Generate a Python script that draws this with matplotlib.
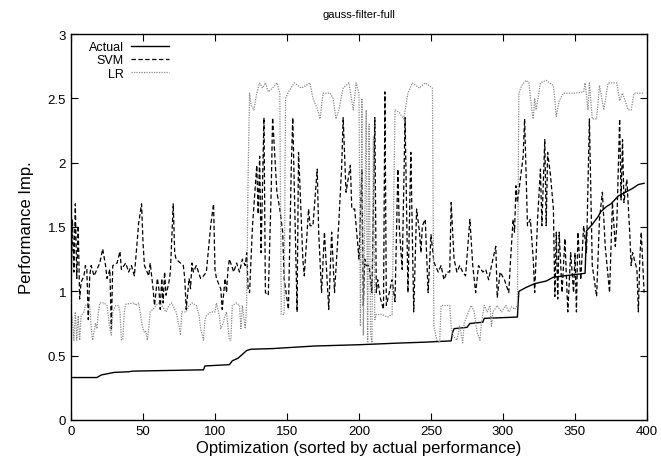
import matplotlib
matplotlib.use("Agg")
import matplotlib.pyplot as plt

plt.rcParams['font.family'] = ['Liberation Sans', 'DejaVu Sans']

# Actual performance (sorted)
actual_x = [0, 18, 21, 30, 40, 43, 92, 93, 110, 112, 116, 118, 120, 122, 125, 140, 169, 200,
            228, 246, 264, 265, 266, 275, 277, 286, 287, 310, 311, 316, 322, 330, 335, 357,
            358, 362, 366, 368, 372, 375, 380, 385, 390, 394, 398]
actual_y = [0.33, 0.33, 0.35, 0.37, 0.375, 0.38, 0.39, 0.42, 0.43, 0.46, 0.48, 0.50, 0.52, 0.54,
            0.55, 0.555, 0.575, 0.585, 0.598, 0.605, 0.615, 0.68, 0.71, 0.72, 0.75, 0.76, 0.79,
            0.80, 1.0, 1.03, 1.06, 1.08, 1.11, 1.14, 1.47, 1.52, 1.58, 1.62, 1.66, 1.68, 1.74,
            1.77, 1.80, 1.83, 1.84]

# SVM prediction
svm_x = [0, 1, 2, 3, 4, 5, 6, 7, 9, 10, 11, 12, 13, 14, 16, 18, 20, 22, 24, 25, 27, 28, 29, 32,
         34, 35, 38, 40, 42, 44, 47, 49, 50, 51, 54, 55, 57, 58, 60, 61, 62, 63, 64, 65, 66, 68,
         69, 71, 72, 73, 76, 78, 79, 80, 82, 83, 84, 85, 87, 90, 92, 94, 97, 99, 100, 101, 104,
         105, 107, 108, 109, 110, 113, 115, 117, 119, 121, 122, 123, 124,
         126, 129, 130, 131, 132, 134, 135, 137, 139, 140, 143, 145, 147, 148, 151, 153, 154,
         157, 158, 159, 161, 162, 165, 166, 168, 171, 172, 174, 176, 179, 181, 183, 186, 188,
         189, 191, 194, 195, 197, 200, 202, 203, 204, 205, 207, 209, 211, 212, 213, 215, 217,
         218, 219, 221, 223, 225, 227, 228, 230, 232, 234, 236, 238, 240, 242, 243, 244, 246,
         248, 250, 252, 253, 255, 257, 259, 261, 263, 264, 266, 268, 270, 272, 274, 277, 279,
         281, 283, 286, 288, 290, 292, 295, 296, 298, 301, 304, 305, 307, 308, 309, 310, 312,
         314, 315, 317, 319, 321, 322, 324, 326, 327, 329, 330, 331, 333, 335, 336, 337, 338,
         339, 341, 343, 345, 347, 349, 350, 351, 352, 354, 356, 358, 360, 362, 365, 367, 369,
         371, 374, 376, 378, 379, 381, 382, 383, 384, 386, 388, 389, 390, 393, 394, 395, 396, 398]
svm_y = [0.99, 1.56, 1.15, 1.68, 1.10, 1.51, 0.94, 1.07, 1.12, 1.20, 1.17, 0.78, 1.12, 1.20,
         1.12, 1.17, 1.22, 1.33, 1.20, 1.10, 1.17, 0.71, 1.20, 1.22, 1.31, 1.17, 1.22, 1.15,
         1.20, 1.12, 1.53, 1.68, 1.38, 1.20, 1.12, 1.22, 1.02, 0.89, 1.10, 1.02, 0.86, 1.10,
         0.91, 1.15, 0.97, 1.07, 1.15, 1.68, 1.30, 1.25, 1.22, 1.20, 1.10, 0.86, 1.10, 1.02,
         1.22, 1.15, 1.20, 1.10, 1.12, 1.15, 1.51, 1.68, 1.17, 1.10, 1.02, 0.86, 1.10, 0.99,
         1.17, 1.25, 1.15, 1.22, 1.15, 1.25, 1.20, 1.30, 1.02, 0.99,
         1.50, 1.98, 1.60, 2.05, 1.30, 2.35, 0.99, 0.97, 1.77, 2.35, 1.77, 1.64, 1.46, 1.10,
         0.86, 1.98, 2.35, 0.84, 2.08, 1.82, 1.25, 1.12, 1.64, 1.51, 1.51, 1.95, 1.46, 0.99,
         1.46, 0.86, 1.46, 0.99, 1.54, 1.98, 2.35, 1.77, 1.98, 1.64, 1.64, 1.25, 1.95, 0.89,
         1.25, 1.20, 1.20, 0.99, 2.35, 0.99, 1.09, 0.94, 0.86, 2.55, 0.89, 0.99, 1.09, 0.92,
         1.95, 1.49, 1.17, 2.35, 0.99, 2.08, 0.84, 1.64, 1.46, 1.30, 1.51, 1.56, 0.99, 1.44,
         1.23, 1.20, 1.15, 1.20, 1.09, 1.15, 1.15, 1.69, 1.25, 1.15, 1.20, 1.15, 1.12, 1.56,
         1.20, 0.99, 1.20, 1.15, 1.17, 1.09, 1.20, 1.35, 0.95, 1.15, 1.09, 0.99, 1.20, 1.56,
         1.46, 1.82, 1.69, 1.87, 2.05, 2.34, 1.51, 1.56, 1.25, 0.99, 1.56, 1.95, 1.51, 2.18,
         1.51, 2.08, 1.90, 1.64, 0.96, 1.46, 0.94, 1.46, 0.99, 1.41, 0.84, 1.30, 0.99, 1.30,
         0.84, 1.46, 1.09, 1.51, 1.30, 2.34, 1.20, 0.96, 1.56, 1.77, 1.35, 0.99, 1.69, 1.35,
         1.51, 2.34, 1.71, 2.18, 1.69, 1.87, 1.46, 1.20, 1.30, 1.17, 0.84, 1.25, 1.46, 0.99]

# LR prediction
lr_x = [0, 1, 2, 3, 4, 5, 6, 7, 9, 10, 12, 13, 14, 15, 17, 18, 19, 20, 23, 25, 27, 28, 29, 31,
        33, 34, 35, 36, 37, 38, 44, 45, 47, 48, 49, 50, 51, 52, 53, 54, 55, 57, 59, 61, 63, 66,
        68, 70, 72, 73, 75, 76, 77, 80, 82, 84, 87, 89, 90, 92, 93, 94, 97, 100, 101, 103, 104,
        105, 107, 108, 109, 110, 111, 112, 115, 117, 118, 119, 121, 122, 123, 124,
        125, 127, 129, 131, 133, 135, 137, 140, 143, 145, 146, 148, 149, 151, 155, 160, 166,
        168, 171, 173, 175, 180, 182, 184, 186, 189, 193, 196, 198, 200, 201, 202, 203, 205,
        206, 207, 208, 209, 210, 211, 212, 216, 220, 223, 225, 228, 231, 234, 237, 242, 246,
        251, 252, 254, 256, 257, 263, 264, 265, 268, 270, 272, 273, 276, 278, 280, 282, 284,
        285, 287, 289, 291, 292, 293, 296, 299, 302, 304, 306, 308, 310, 311, 313, 316, 318,
        320, 321, 322, 323, 326, 330, 335, 337, 339, 342, 350, 356, 357, 359, 360, 362, 365,
        367, 370, 373, 379, 381, 383, 387, 389, 391, 396, 398]
lr_y = [0.84, 0.78, 0.62, 0.84, 0.62, 0.81, 0.62, 0.81, 0.84, 0.89, 0.91, 0.89, 0.72, 0.62,
        0.75, 0.71, 0.84, 0.91, 0.91, 0.89, 0.71, 0.66, 0.84, 0.89, 0.89, 0.84, 0.62, 0.63,
        0.84, 0.90, 0.91, 0.89, 0.91, 0.84, 0.76, 0.71, 0.68, 0.69, 0.62, 0.71, 0.84, 0.86,
        0.89, 0.91, 0.89, 0.84, 0.89, 0.91, 0.86, 0.84, 0.73, 0.66, 0.84, 0.84, 0.89, 0.91,
        0.89, 0.81, 0.71, 0.62, 0.78, 0.81, 0.84, 0.84, 0.91, 0.81, 0.71, 0.73, 0.81, 0.84,
        0.73, 0.62, 0.62, 0.89, 0.91, 0.89, 0.71, 0.89, 0.71, 0.91, 1.90, 2.54,
        2.45, 2.41, 2.54, 2.62, 2.58, 2.62, 2.55, 2.58, 2.62, 2.54, 0.82, 0.82, 2.50, 2.55,
        2.62, 2.58, 2.62, 2.50, 2.42, 2.34, 2.54, 2.54, 2.50, 2.34, 2.41, 2.58, 2.62, 2.41,
        2.62, 2.54, 0.73, 2.50, 0.66, 2.41, 0.60, 2.30, 0.68, 0.60, 2.20, 0.78, 0.82, 0.82,
        0.80, 0.82, 2.41, 2.39, 2.34, 2.54, 2.62, 2.58, 2.62, 2.58, 0.73, 0.62, 0.60, 0.89,
        0.89, 0.73, 0.66, 0.62, 0.73, 0.60, 0.75, 0.84, 0.89, 0.84, 0.68, 0.62, 0.75, 0.89,
        0.84, 0.89, 0.73, 0.84, 0.89, 0.84, 0.89, 0.84, 0.88, 0.86, 0.89, 2.54, 2.60, 2.64,
        2.62, 2.41, 2.34, 2.50, 2.41, 2.62, 2.64, 2.60, 2.36, 2.48, 2.54, 2.54, 2.55, 2.62,
        2.41, 2.62, 2.34, 2.34, 2.60, 2.41, 2.62, 2.62, 2.48, 2.54, 2.41, 2.41, 2.54, 2.54,
        2.54]

fig = plt.figure(figsize=(6.61, 4.64), dpi=100)
ax = fig.add_axes([71 / 661, 43 / 464, 576 / 661, 386 / 464])

ax.plot(actual_x, actual_y, color='black', lw=1.0, label='Actual')
ax.plot(svm_x, svm_y, color='black', lw=0.9, ls=(0, (3.5, 2)), label='SVM')
ax.plot(lr_x, lr_y, color='#8a8a8a', lw=0.9, ls=(0, (1, 1)), label='LR')

ax.set_xlim(0, 400)
ax.set_ylim(0, 3)
ax.set_xticks(range(0, 401, 50))
ax.set_yticks([0, 0.5, 1, 1.5, 2, 2.5, 3])
ax.set_yticklabels(['0', '0.5', '1', '1.5', '2', '2.5', '3'])
ax.tick_params(direction='in', top=True, right=True, length=5, width=0.8, labelsize=9.5)
for s in ax.spines.values():
    s.set_linewidth(1.0)

ax.set_xlabel('Optimization (sorted by actual performance)', fontsize=12, labelpad=2)
ax.set_ylabel('Performance Imp.', fontsize=12, labelpad=10)
ax.set_title('gauss-filter-full', fontsize=8, pad=12)

ax.legend(loc='upper left', bbox_to_anchor=(0.02, 0.998), frameon=False, markerfirst=False,
          fontsize=9, handlelength=3, handletextpad=0.6, labelspacing=0.1, borderpad=0)

fig.savefig('out.png', dpi=100)
